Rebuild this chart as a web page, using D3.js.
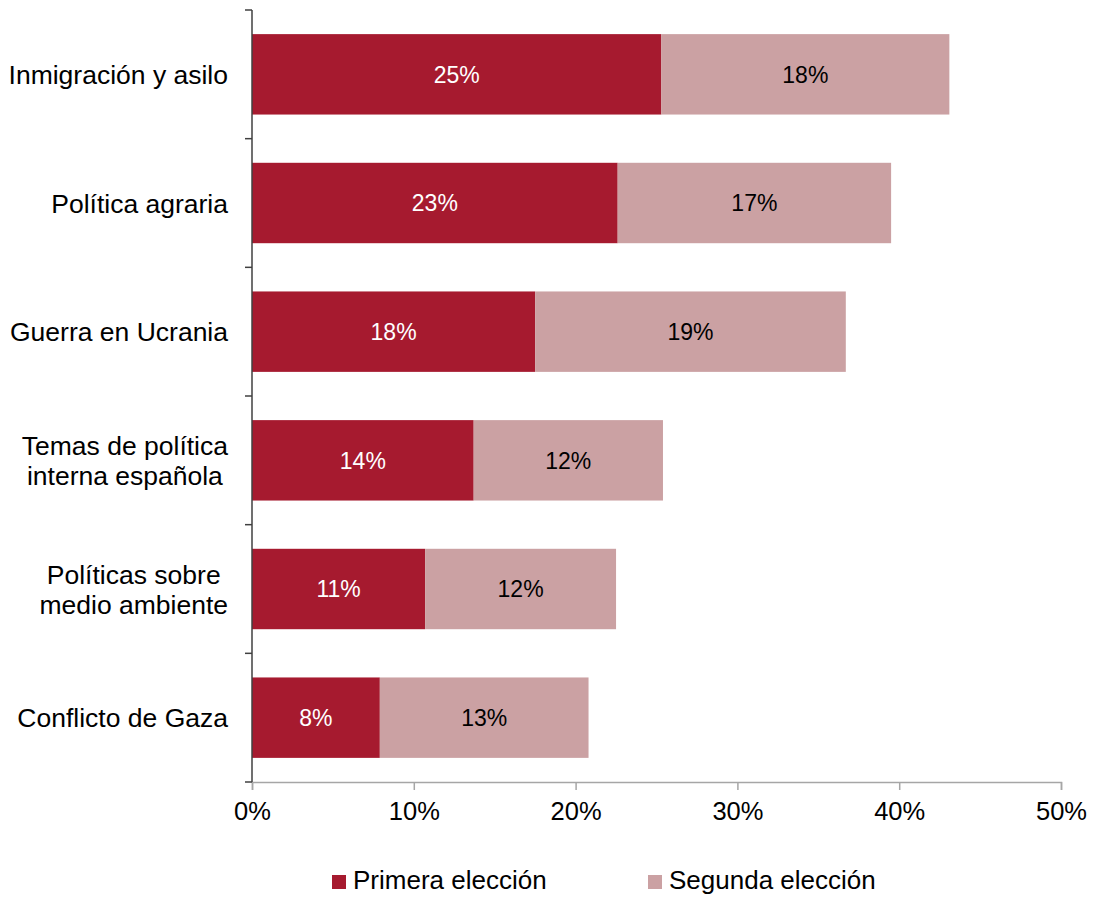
<!DOCTYPE html>
<html>
<head>
<meta charset="utf-8">
<script src="https://cdn.jsdelivr.net/npm/d3@7"></script>
<style>
  html, body { margin: 0; padding: 0; background: #fff; }
  svg { display: block; font-family: "Liberation Sans", Arial, Helvetica, sans-serif; }
</style>
</head>
<body>
<svg id="chart" width="1094" height="898"></svg>
<script>
const categories = [
  ["Inmigración y asilo"],
  ["Política agraria"],
  ["Guerra en Ucrania"],
  ["Temas de política", "interna española"],
  ["Políticas sobre", "medio ambiente"],
  ["Conflicto de Gaza"]
];
const primera = [25.3, 22.6, 17.5, 13.7, 10.7, 7.9];
const segunda = [17.8, 16.9, 19.2, 11.7, 11.8, 12.9];
const primeraLabels = ["25%", "23%", "18%", "14%", "11%", "8%"];
const segundaLabels = ["18%", "17%", "19%", "12%", "12%", "13%"];
const xTicks = [0, 10, 20, 30, 40, 50];
const seriesNames = ["Primera elección", "Segunda elección"];
const colors = ["#A61A2F", "#CBA1A3"];

const svg = d3.select("#chart");
const x = d3.scaleLinear().domain([0, 50]).range([252, 1061]);
const idx = d3.range(categories.length);
const y = d3.scaleBand().domain(idx).range([10, 782]).paddingInner(0.375).paddingOuter(0.1875);

// bars
const g = svg.append("g");
g.selectAll("rect.p").data(idx).join("rect")
  .attr("x", x(0)).attr("y", i => y(i))
  .attr("width", i => x(primera[i]) - x(0))
  .attr("height", y.bandwidth())
  .attr("fill", colors[0]);
g.selectAll("rect.s").data(idx).join("rect")
  .attr("x", i => x(primera[i])).attr("y", i => y(i))
  .attr("width", i => x(primera[i] + segunda[i]) - x(primera[i]))
  .attr("height", y.bandwidth())
  .attr("fill", colors[1]);

// value labels
g.selectAll("text.vp").data(idx).join("text")
  .attr("x", i => (x(0) + x(primera[i])) / 2)
  .attr("y", i => y(i) + y.bandwidth() / 2)
  .attr("dy", "0.36em").attr("text-anchor", "middle")
  .attr("font-size", 23).attr("fill", "#fff")
  .text(i => primeraLabels[i]);
g.selectAll("text.vs").data(idx).join("text")
  .attr("x", i => (x(primera[i]) + x(primera[i] + segunda[i])) / 2)
  .attr("y", i => y(i) + y.bandwidth() / 2)
  .attr("dy", "0.36em").attr("text-anchor", "middle")
  .attr("font-size", 23).attr("fill", "#000")
  .text(i => segundaLabels[i]);

// x axis
const xAxis = svg.append("g").attr("transform", "translate(0,782)")
  .call(d3.axisBottom(x).tickValues(xTicks).tickFormat(d => d + "%").tickSize(8).tickPadding(12));
xAxis.select(".domain").attr("stroke", "#a6a6a6").attr("stroke-width", 1.5);
xAxis.selectAll(".tick line").attr("stroke", "#a6a6a6").attr("stroke-width", 1.5);
xAxis.selectAll(".tick text").attr("font-size", 25.5).attr("fill", "#000")
  .attr("font-family", "Liberation Sans, Arial, sans-serif");

// y axis
const yAxisG = svg.append("g");
yAxisG.append("line").attr("x1", x(0)).attr("x2", x(0)).attr("y1", 10).attr("y2", 782)
  .attr("stroke", "#404040").attr("stroke-width", 1.5);
const step = y.step();
const boundaries = idx.map(i => y(i) - (step - y.bandwidth()) / 2).concat([y(idx.length - 1) + y.bandwidth() + (step - y.bandwidth()) / 2]);
yAxisG.selectAll("line.t").data(boundaries).join("line")
  .attr("x1", x(0) - 7).attr("x2", x(0)).attr("y1", d => d).attr("y2", d => d)
  .attr("stroke", "#404040").attr("stroke-width", 1.5);

// category labels
const rightEdge = 228;
const lineH = 30;
idx.forEach(i => {
  const lines = categories[i];
  const cy = y(i) + y.bandwidth() / 2;
  const grp = svg.append("g");
  const texts = lines.map((t, k) => grp.append("text")
    .attr("font-size", 26.5).attr("fill", "#000")
    .attr("y", cy + (k - (lines.length - 1) / 2) * lineH)
    .attr("dy", "0.36em").attr("text-anchor", "middle").text(t));
  const maxW = d3.max(texts, t => t.node().getComputedTextLength());
  texts.forEach(t => t.attr("x", rightEdge - maxW / 2));
});

// legend
const legendX = [332, 648];
const leg = svg.append("g");
seriesNames.forEach((n, k) => {
  leg.append("rect").attr("x", legendX[k]).attr("y", 875).attr("width", 14).attr("height", 14).attr("fill", colors[k]);
  leg.append("text").attr("x", legendX[k] + 21).attr("y", 889).attr("font-size", 26).attr("fill", "#000").text(n);
});
</script>
</body>
</html>
